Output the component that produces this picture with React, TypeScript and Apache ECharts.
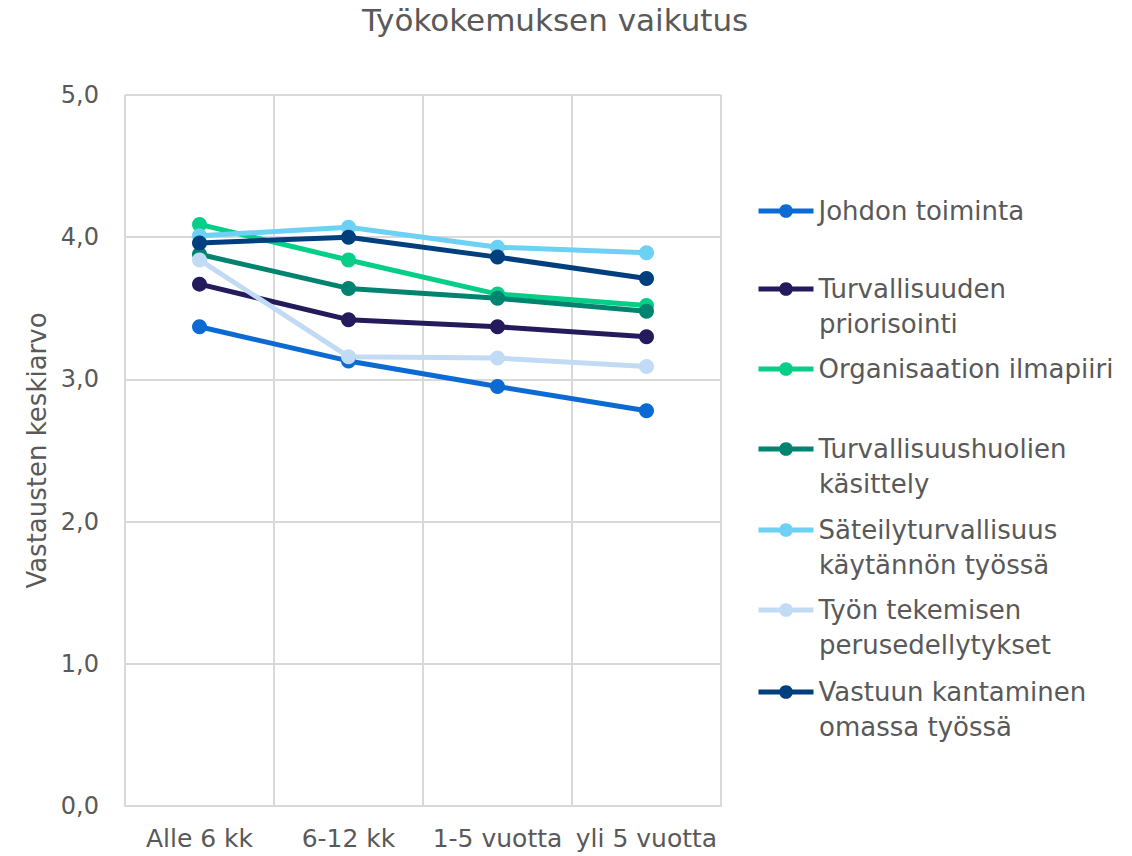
import React, { useEffect, useRef } from "react";
import * as echarts from "echarts";

const categories = ["Alle 6 kk", "6-12 kk", "1-5 vuotta", "yli 5 vuotta"];
const yTicks = [0, 1, 2, 3, 4, 5];

const johdonToiminta = [3.37, 3.13, 2.95, 2.78];
const turvallisuudenPriorisointi = [3.67, 3.42, 3.37, 3.3];
const organisaationIlmapiiri = [4.09, 3.84, 3.6, 3.52];
const turvallisuushuolienKasittely = [3.88, 3.64, 3.57, 3.48];
const sateilyturvallisuus = [4.01, 4.07, 3.93, 3.89];
const tyonTekemisen = [3.84, 3.16, 3.15, 3.09];
const vastuunKantaminen = [3.96, 4.0, 3.86, 3.71];

const nameLine1 = [
  "Johdon toiminta",
  "Turvallisuuden",
  "Organisaation ilmapiiri",
  "Turvallisuushuolien",
  "Säteilyturvallisuus",
  "Työn tekemisen",
  "Vastuun kantaminen",
];
const nameLine2 = [
  "",
  "priorisointi",
  "",
  "käsittely",
  "käytännön työssä",
  "perusedellytykset",
  "omassa työssä",
];
const seriesValues = [
  johdonToiminta,
  turvallisuudenPriorisointi,
  organisaationIlmapiiri,
  turvallisuushuolienKasittely,
  sateilyturvallisuus,
  tyonTekemisen,
  vastuunKantaminen,
];
const colors = ["#0B6BD3", "#231B5B", "#05CE86", "#00836F", "#6DD0F5", "#C2DBF5", "#003F7D"];

const FONT = "DejaVu Sans";
const TEXT = "#595959";
const legendIconY = [211, 289, 369, 449, 530, 610, 692];
const LINE2_DY = 35;

export default function App() {
  const ref = useRef<HTMLDivElement>(null);
  useEffect(() => {
    if (!ref.current) return;
    const chart = echarts.init(ref.current, undefined, { renderer: "svg" });
    const fullNames = nameLine1.map((l1, i) => (nameLine2[i] ? l1 + " " + nameLine2[i] : l1));

    const legends = fullNames.map((n, i) => ({
      data: [n],
      orient: "vertical",
      left: 756,
      top: legendIconY[i] - 15,
      padding: 0,
      itemWidth: 55,
      itemHeight: 17,
      selectedMode: false,
      lineStyle: { width: 5 },
      formatter: () => nameLine1[i],
      textStyle: { fontFamily: FONT, fontSize: 26, color: TEXT, lineHeight: 30 },
    }));

    const graphics = nameLine2
      .map((t, i) =>
        t
          ? {
              type: "text",
              x: 819,
              y: legendIconY[i] + LINE2_DY,
              style: {
                text: t,
                fontFamily: FONT,
                fontSize: 26,
                fill: TEXT,
                verticalAlign: "middle",
                align: "left",
              },
            }
          : null
      )
      .filter(Boolean);

    chart.setOption({
      animation: false,
      backgroundColor: "#ffffff",
      title: {
        text: "Työkokemuksen vaikutus",
        left: 362,
        top: 4,
        padding: 0,
        textStyle: { fontFamily: FONT, fontSize: 31, fontWeight: "normal", color: TEXT },
      },
      legend: legends,
      graphic: graphics,
      grid: { left: 125, right: 411, top: 95, bottom: 50, containLabel: false },
      xAxis: {
        type: "category",
        data: categories,
        boundaryGap: true,
        axisLine: { show: true, lineStyle: { color: "#D9D9D9", width: 2 } },
        axisTick: { show: false },
        splitLine: { show: true, lineStyle: { color: "#D9D9D9", width: 2 } },
        axisLabel: { fontFamily: FONT, fontSize: 25, color: TEXT, margin: 20, interval: 0 },
      },
      yAxis: {
        type: "value",
        min: yTicks[0],
        max: yTicks[yTicks.length - 1],
        interval: 1,
        name: "Vastausten keskiarvo",
        nameLocation: "middle",
        nameGap: 72,
        nameTextStyle: { fontFamily: FONT, fontSize: 26, color: TEXT },
        axisLine: { show: false },
        axisTick: { show: false },
        splitLine: { show: true, lineStyle: { color: "#D9D9D9", width: 2 } },
        axisLabel: {
          fontFamily: FONT,
          fontSize: 24,
          color: TEXT,
          margin: 26,
          formatter: (v: number) => v.toFixed(1).replace(".", ","),
        },
      },
      series: seriesValues.map((vals, i) => ({
        name: fullNames[i],
        type: "line",
        data: vals,
        symbol: "circle",
        symbolSize: 15,
        color: colors[i],
        lineStyle: { width: 5, color: colors[i] },
        itemStyle: { color: colors[i] },
      })),
    });
    return () => chart.dispose();
  }, []);
  return (
    <div
      ref={ref}
      style={{ position: "fixed", left: 0, top: 0, width: 1132, height: 856, background: "#fff" }}
    />
  );
}
